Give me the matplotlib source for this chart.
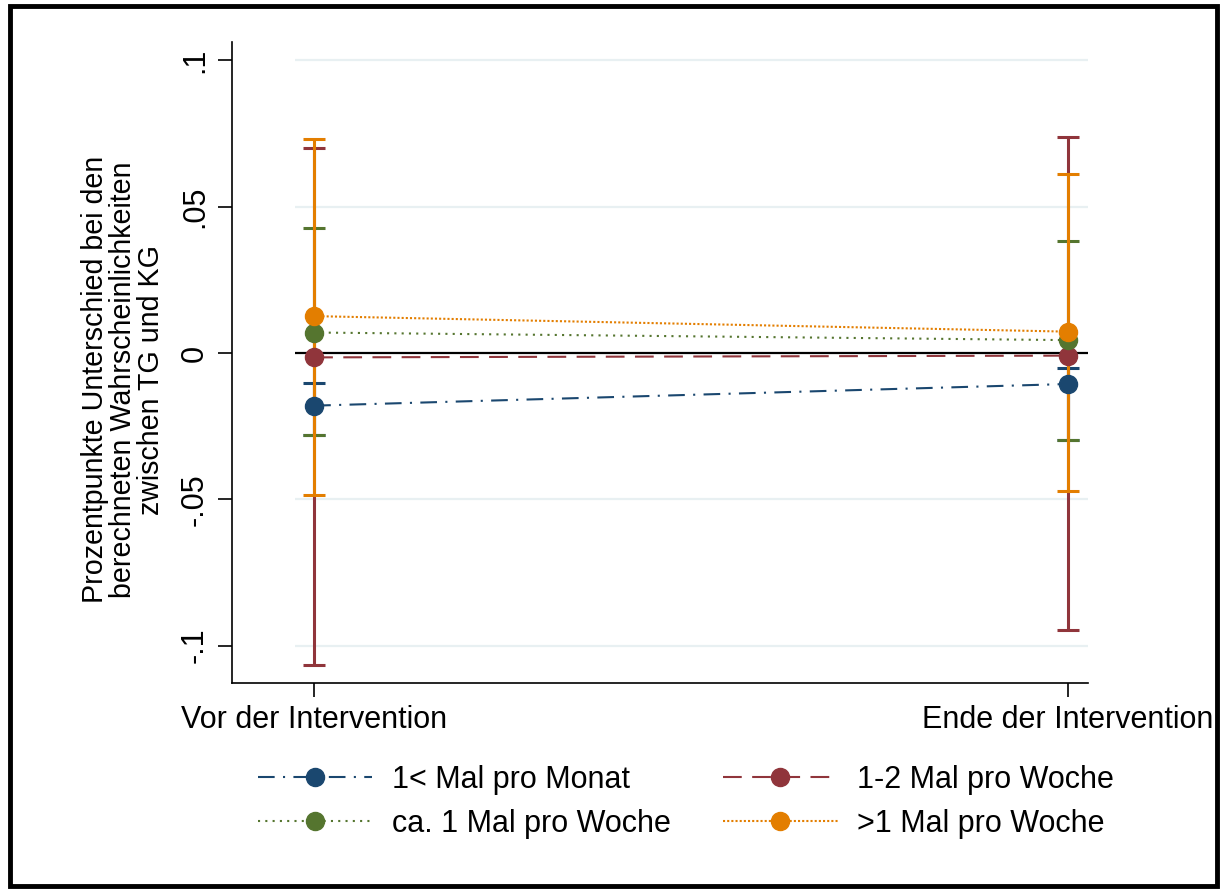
import matplotlib.pyplot as plt
from matplotlib.patches import Rectangle
from matplotlib.lines import Line2D

plt.rcParams['font.family'] = ['Liberation Sans', 'DejaVu Sans']

zeitpunkte = ["Vor der Intervention", "Ende der Intervention"]
gruppen = ["1< Mal pro Monat", "1-2 Mal pro Woche", "ca. 1 Mal pro Woche", ">1 Mal pro Woche"]

# Punktschätzer und Konfidenzintervalle je Gruppe (vor, Ende)
wert = {
    "1< Mal pro Monat": [-0.018, -0.0106],
    "1-2 Mal pro Woche": [-0.0015, -0.0009],
    "ca. 1 Mal pro Woche": [0.0070, 0.0044],
    ">1 Mal pro Woche": [0.0126, 0.0073],
}
ki_unten = {
    "1< Mal pro Monat": [-0.0280, -0.0297],
    "1-2 Mal pro Woche": [-0.1065, -0.0947],
    "ca. 1 Mal pro Woche": [-0.0280, -0.0297],
    ">1 Mal pro Woche": [-0.0485, -0.0473],
}
ki_oben = {
    "1< Mal pro Monat": [-0.0103, -0.0050],
    "1-2 Mal pro Woche": [0.0699, 0.0738],
    "ca. 1 Mal pro Woche": [0.0428, 0.0383],
    ">1 Mal pro Woche": [0.0732, 0.0611],
}

farben = ["#1a476f", "#90353b", "#55752f", "#e37e00"]
stile = [(0, (8, 4, 1, 4)), (0, (9, 5)), (0, (1, 2.5)), (0, (1, 1))]

fig = plt.figure(figsize=(12.21, 8.89), dpi=100)
ax = fig.add_axes([232 / 1221, 1 - 683 / 889, (1088 - 232) / 1221, (683 - 42) / 889])

x = [0, 1]

# Gitter und Nulllinie
for g in [-0.1, -0.05, 0.05, 0.1]:
    ax.hlines(g, -0.025, 1.03, color="#e8f0f2", lw=1.6, zorder=0)
ax.hlines(0, -0.025, 1.03, color="black", lw=1.6, zorder=1)

# Konfidenzintervalle
for grp, c in zip(gruppen, farben):
    w = wert[grp]
    lo = [w[i] - ki_unten[grp][i] for i in range(2)]
    hi = [ki_oben[grp][i] - w[i] for i in range(2)]
    ax.errorbar(x, w, yerr=[lo, hi], fmt="none", ecolor=c, elinewidth=2.2,
                capsize=8, capthick=2.2, zorder=2)

# Linien mit Punkten
for grp, c, ls in zip(gruppen, farben, stile):
    ax.plot(x, wert[grp], color=c, ls=ls, lw=1.5, zorder=3)
    ax.plot(x, wert[grp], "o", color=c, ms=13, zorder=4)

ax.set_xlim(-0.109, 1.027)
ax.set_ylim(-0.1128, 0.1063)
ax.set_xticks(x)
ax.set_xticklabels(zeitpunkte, fontsize=22)
ax.set_yticks([-0.1, -0.05, 0, 0.05, 0.1])
ax.set_yticklabels(["-.1", "-.05", "0", ".05", ".1"], fontsize=22, rotation=90, va="center")
ax.tick_params(axis="both", length=10, width=1.2, pad=6)
for s in ["top", "right"]:
    ax.spines[s].set_visible(False)
ax.spines["left"].set_linewidth(1.2)
ax.spines["bottom"].set_linewidth(1.2)

ax.set_ylabel("Prozentpunkte Unterschied bei den\nberechneten Wahrscheinlichkeiten\nzwischen TG und KG",
              fontsize=20.6, linespacing=1.0)
ax.yaxis.set_label_coords(-0.078, 0.473)

# Legende, zeilenweise angeordnet
reihenfolge = [0, 2, 1, 3]
griffe = [Line2D([0], [0], color=farben[i], ls=stile[i], lw=1.5, marker="o", ms=13)
          for i in reihenfolge]
fig.legend(griffe, [gruppen[i] for i in reihenfolge], loc="center",
           bbox_to_anchor=(686 / 1221, 1 - 802 / 889),
           ncol=2, frameon=False, fontsize=22, handlelength=3.75, columnspacing=1.7,
           handletextpad=0.65, labelspacing=0.45)

# Rahmen um die Grafik
fig.patches.append(Rectangle((0.008, 0.003), 0.989, 0.99, transform=fig.transFigure,
                             fill=False, ec="black", lw=3.5))

fig.savefig("out.png", dpi=100)
